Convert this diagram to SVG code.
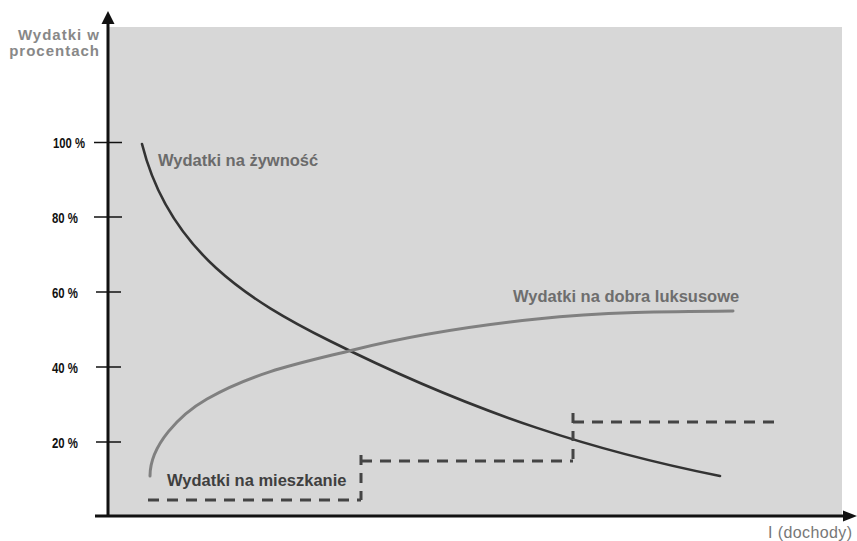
<svg xmlns="http://www.w3.org/2000/svg" width="857" height="541" viewBox="0 0 857 541">
<style>
.tick{stroke:#111;stroke-width:1.5}
.tl{font-family:"Liberation Sans",Arial,sans-serif;font-weight:bold;font-size:14.5px;fill:#111}
.lbl{font-family:"Liberation Sans",Arial,sans-serif;font-weight:bold;font-size:16.5px}
.dash{stroke:#444;stroke-width:3;stroke-dasharray:11 8;fill:none}
.curve{fill:none;stroke-linejoin:round;stroke-linecap:round}
</style>
<rect x="0" y="0" width="857" height="541" fill="#ffffff"/>
<rect id="plot-area" x="108" y="27" width="734" height="489" fill="#d7d7d7"/>

<g id="axes">
  <line x1="108" y1="517" x2="108" y2="22" stroke="#111" stroke-width="3"/>
  <polygon points="108,11 101.5,24 114.5,24" fill="#111"/>
  <line x1="95" y1="516" x2="846" y2="516" stroke="#111" stroke-width="3"/>
  <polygon points="857,516 843,510.5 843,521.5" fill="#111"/>
  <line class="tick" x1="94" y1="142.5" x2="122" y2="142.5"/>
  <line class="tick" x1="94" y1="217" x2="122" y2="217"/>
  <line class="tick" x1="96" y1="292" x2="121" y2="292"/>
  <line class="tick" x1="96" y1="367" x2="121" y2="367"/>
  <line class="tick" x1="96" y1="442" x2="121" y2="442"/>
  <text class="tl" x="53" y="147.5" textLength="32" lengthAdjust="spacingAndGlyphs">100 %</text>
  <text class="tl" x="52" y="222.5" textLength="26" lengthAdjust="spacingAndGlyphs">80 %</text>
  <text class="tl" x="52" y="297.5" textLength="26" lengthAdjust="spacingAndGlyphs">60 %</text>
  <text class="tl" x="52" y="372.5" textLength="26" lengthAdjust="spacingAndGlyphs">40 %</text>
  <text class="tl" x="52" y="447.5" textLength="26" lengthAdjust="spacingAndGlyphs">20 %</text>
  <g id="y-title" font-family="'Liberation Sans',Arial,sans-serif" font-weight="bold" font-size="15" fill="#888" text-anchor="end" letter-spacing="1">
    <text x="100" y="40">Wydatki w</text>
    <text x="100" y="56">procentach</text>
  </g>
  <text id="x-title" x="768" y="538" font-family="'Liberation Sans',Arial,sans-serif" font-size="16" fill="#777" letter-spacing="0.4">I (dochody)</text>
</g>

<g id="connectors">
  <g id="food">
    <path class="curve" stroke="#333" stroke-width="2.6" d="M142,144 C169,252 250,301 330,341 C480,416 600,452 720,476"/>
  </g>
  <g id="luxury">
    <path class="curve" stroke="#808080" stroke-width="3" d="M150,476 C150,445 180,414.4 207,399 C255.7,371.3 304.3,362.2 353,350 C414.3,334.7 475.7,325.5 537,319 C602.3,312.1 668,311.5 733,311"/>
  </g>
  <g id="housing">
    <line class="dash" x1="148" y1="500" x2="361" y2="500"/>
    <line class="dash" x1="361" y1="455" x2="361" y2="500" style="stroke-dasharray:10 8"/>
    <line class="dash" x1="361" y1="461" x2="573" y2="461"/>
    <line class="dash" x1="573" y1="413" x2="573" y2="461" style="stroke-dasharray:10 8"/>
    <line class="dash" x1="573" y1="422" x2="780" y2="422"/>
  </g>
</g>

<g id="label-food"><text class="lbl" x="158" y="166" fill="#6b6b6b">Wydatki na żywność</text></g>
<g id="label-luxury"><text class="lbl" x="513" y="302" fill="#6e6e6e">Wydatki na dobra luksusowe</text></g>
<g id="label-housing"><text class="lbl" x="167" y="486" fill="#3f3f3f">Wydatki na mieszkanie</text></g>
</svg>
